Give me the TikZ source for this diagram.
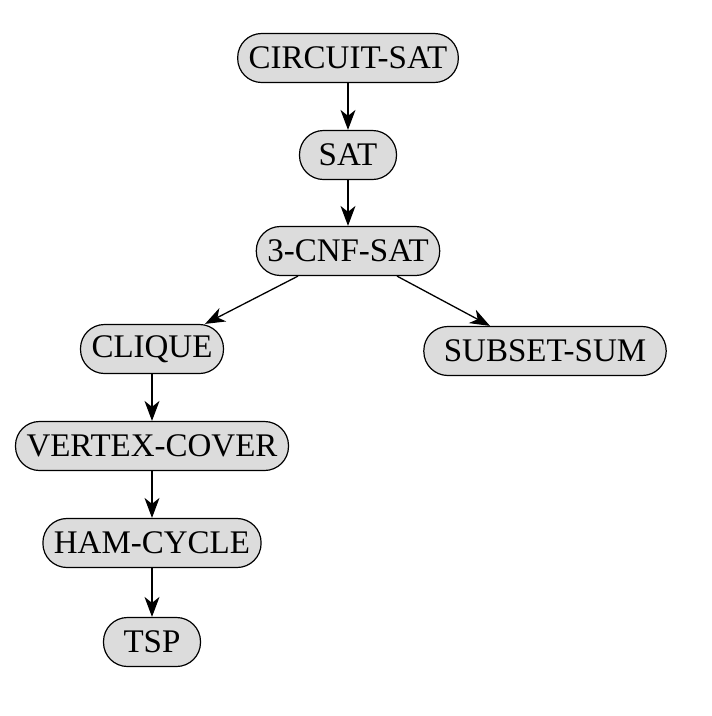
\documentclass[tikz,border=0pt]{standalone}
\usepackage{fontspec}
\setmainfont{Liberation Serif}
\usetikzlibrary{arrows.meta}

\definecolor{probfill}{RGB}{220,220,220}

\begin{document}
\begin{tikzpicture}[x=1pt, y=-1pt,
  prob/.style={draw, line width=1.2pt, fill=probfill, rounded corners=24pt,
    minimum height=49pt, minimum width=97pt, inner xsep=11pt, inner ysep=0pt,
    font=\fontsize{33}{39}\selectfont},
  arr/.style={line width=1.3pt, -{Stealth[length=20pt, width=15pt, inset=6pt]}}]
  \useasboundingbox (0,0) rectangle (712,716);
  % 归约链：从 CIRCUIT-SAT 开始
  \node[prob] (csat) at (348,58) {CIRCUIT-SAT};
  \node[prob] (sat) at (348,155) {SAT};
  \node[prob] (cnf) at (348,251) {3-CNF-SAT};
  % 两个分支
  \node[prob] (clique) at (152,349) {CLIQUE};
  \node[prob, inner xsep=20pt] (ssum) at (545,351) {SUBSET-SUM};
  \node[prob] (vc) at (152,446) {VERTEX-COVER};
  \node[prob] (ham) at (152,543) {HAM-CYCLE};
  \node[prob] (tsp) at (152,642) {TSP};
  % 箭头
  \draw[arr] (csat) -- (sat);
  \draw[arr] (sat) -- (cnf);
  \draw[arr] ([xshift=-50pt]cnf.south) -- ([xshift=53pt]clique.north);
  \draw[arr] ([xshift=49pt]cnf.south) -- ([xshift=-55pt]ssum.north);
  \draw[arr] (clique) -- (vc);
  \draw[arr] (vc) -- (ham);
  \draw[arr] (ham) -- (tsp);
\end{tikzpicture}
\end{document}
